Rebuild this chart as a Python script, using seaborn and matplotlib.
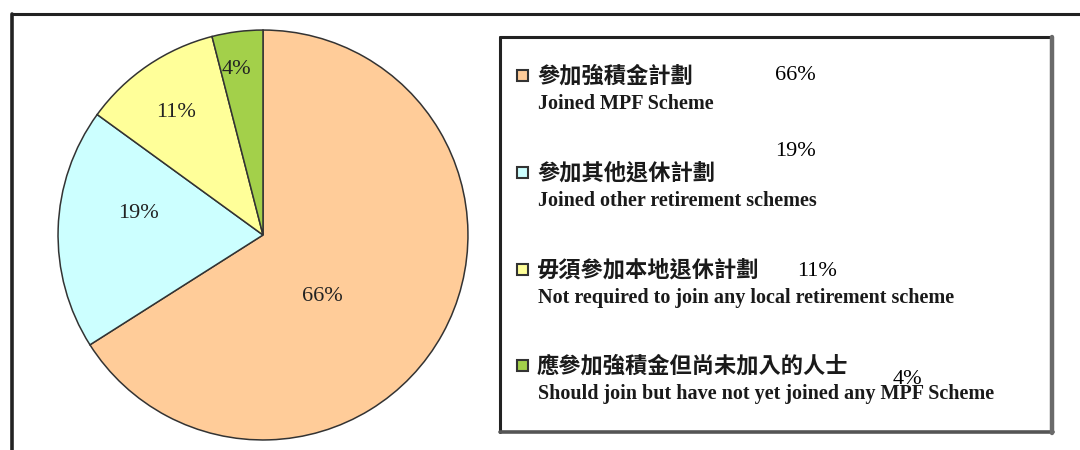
import matplotlib
matplotlib.use("Agg")
import matplotlib.pyplot as plt
from matplotlib.patches import Rectangle
from matplotlib.lines import Line2D
import seaborn as sns

# Retirement scheme participation shares (%)
labels_zh = ["參加強積金計劃", "參加其他退休計劃", "毋須參加本地退休計劃", "應參加強積金但尚未加入的人士"]
labels_en = ["Joined MPF Scheme", "Joined other retirement schemes",
             "Not required to join any local retirement scheme",
             "Should join but have not yet joined any MPF Scheme"]
shares = [66, 19, 11, 4]
pct_labels = ["66%", "19%", "11%", "4%"]

sns.set_theme(style="white")
plt.rcParams["font.family"] = ["Liberation Serif", "DejaVu Serif"]
palette = sns.color_palette(["#FFCC99", "#CCFFFF", "#FFFF99", "#A3D04A"])

W, H = 1080, 450
fig = plt.figure(figsize=(W / 100, H / 100), dpi=100)

# Background layer in pixel coordinates for frame and legend box
bg = fig.add_axes([0, 0, 1, 1])
bg.set_xlim(0, W)
bg.set_ylim(H, 0)
bg.axis("off")

# Outer frame (top and left rules)
bg.add_line(Line2D([12, W], [14, 14], color="#222222", lw=2.2))
bg.add_line(Line2D([12, 12], [14, H], color="#222222", lw=2.6))

# Legend box with shaded right/bottom edges
bg.add_patch(Rectangle((500, 37), 552, 395, facecolor="white", edgecolor="none"))
bg.add_line(Line2D([500, 1052], [37, 37], color="#222222", lw=2.2))
bg.add_line(Line2D([500, 500], [37, 432], color="#222222", lw=2.2))
bg.add_line(Line2D([500, 1053], [432, 432], color="#555555", lw=2.6))
bg.add_line(Line2D([1052, 1052], [37, 433], color="#6a6a6a", lw=3.2))

# Legend rows
row_y = [76, 173, 270, 366]
for yc, zh, en, col in zip(row_y, labels_zh, labels_en, palette):
    bg.add_patch(Rectangle((517, yc - 6), 11, 11, facecolor=col,
                           edgecolor="#333333", lw=1.5))
    bg.text(537, yc, zh, fontsize=16, fontweight="bold", color="#1a1a1a",
            va="center", ha="left", family=["Noto Sans CJK TC", "DejaVu Sans"])
    bg.text(538, yc + 28, en, fontsize=14.5, fontweight="bold", color="#1a1a1a",
            va="center", ha="left", family=["Liberation Serif", "DejaVu Serif"])

# Percentages beside legend entries
legend_pct_pos = [(795, 76), (795, 151), (817, 271), (907, 380)]
for (px, py), txt in zip(legend_pct_pos, pct_labels):
    bg.text(px, py, txt, fontsize=16, color="black", ha="center", va="center")

# Pie chart
cx, cy, r = 263, 235, 207
ax = fig.add_axes([(cx - r) / W, (H - cy - r) / H, 2 * r / W, 2 * r / H])
ax.pie(shares, colors=palette, startangle=90, counterclock=False, radius=1,
       wedgeprops=dict(edgecolor="#333333", linewidth=1.1))
ax.set_xlim(-1.01, 1.01)
ax.set_ylim(-1.01, 1.01)
ax.set_aspect("auto")
ax.axis("off")

# Slice percentage labels
slice_label_pos = [(0.29, -0.30), (-0.609, 0.106), (-0.425, 0.599), (-0.13, 0.807)]
for (lx, ly), txt in zip(slice_label_pos, pct_labels):
    ax.text(lx, ly, txt, fontsize=16, color="#222222", ha="center", va="center")

fig.savefig("out.png", dpi=100)
